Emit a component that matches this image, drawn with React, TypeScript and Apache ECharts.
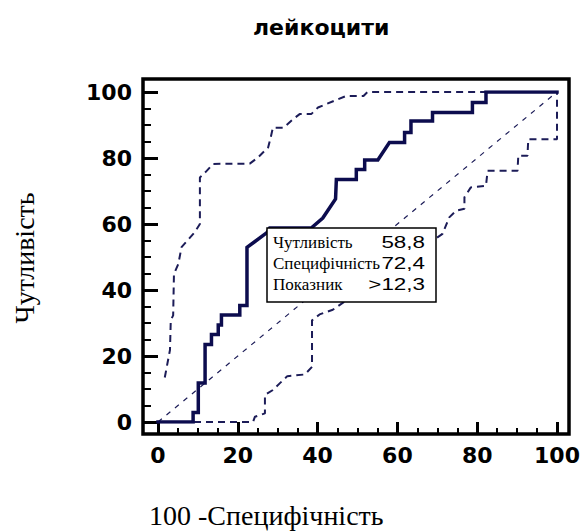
import React, { useEffect, useRef } from "react";
import * as echarts from "echarts";

// ROC curve (100 - specificity, sensitivity)
const rocX = [0, 8.8, 8.8, 10.1, 10.1, 11.8, 11.8, 13.4, 13.4, 15.1, 15.1, 15.9, 15.9, 20.5, 20.5, 22.3, 22.3, 27.3, 28.0, 38.4, 41.3, 43.4, 44.5, 44.7, 49.7, 49.7, 51.8, 51.8, 55.1, 58.0, 61.8, 61.8, 63.4, 63.4, 68.8, 68.8, 78.8, 78.8, 82.2, 82.2, 100];
const rocY = [0, 0, 2.9, 2.9, 11.8, 11.8, 23.5, 23.5, 26.5, 26.5, 29.4, 29.4, 32.4, 32.4, 35.3, 35.3, 52.9, 57.4, 58.8, 58.8, 61.8, 65.6, 67.6, 73.5, 73.5, 76.5, 76.5, 79.4, 79.4, 84.7, 84.7, 87.7, 87.7, 91.2, 91.2, 93.8, 93.8, 96.8, 96.8, 100, 100];

// Upper confidence bound
const upperX = [1.7, 2.2, 3.0, 3.2, 3.8, 4.0, 5.1, 5.9, 9.2, 10.5, 10.5, 12.2, 13.8, 23.0, 25.1, 27.6, 28.2, 28.8, 31.5, 33.8, 35.5, 38.4, 40.1, 45.1, 47.2, 51.5, 52.5, 82.2];
const upperY = [13.5, 16.7, 21.8, 30.8, 32.3, 44.9, 47.9, 53.0, 57.5, 60.0, 74.1, 76.1, 78.2, 78.3, 80.2, 83.2, 86.0, 89.2, 89.2, 91.7, 93.3, 93.3, 95.3, 97.8, 98.8, 98.8, 100, 100];

// Lower confidence bound
const lowerX = [0, 23.8, 24.3, 26.8, 26.8, 28.8, 30.5, 32.4, 36.8, 38.6, 38.6, 40.5, 43.8, 71.3, 73.0, 74.7, 76.8, 76.8, 78.4, 82.2, 82.6, 90.1, 90.3, 92.6, 92.8, 100, 100];
const lowerY = [0, 0, 1.6, 2.6, 8.2, 9.7, 11.7, 13.9, 14.4, 16.7, 30.8, 32.6, 34.0, 57.0, 62.0, 64.0, 64.6, 68.1, 71.1, 71.6, 76.1, 76.1, 80.7, 80.7, 85.7, 85.7, 100];

// Diagonal reference line
const diagX = [0, 100];
const diagY = [0, 100];

const boxLabels = ["Чутливість", "Специфічність", "Показник"];
const boxValues = ["58,8", "72,4", ">12,3"];

const titleText = "лейкоцити";
const xTitle = "100 -Специфічність";
const yTitle = "Чутливість";

const pairs = (xs: number[], ys: number[]) => xs.map((x, i) => [x, ys[i]]);

const NAVY = "#0c0c4e";
const NAVY2 = "#1c1c58";

export default function App() {
  const ref = useRef<HTMLDivElement>(null);
  useEffect(() => {
    if (!ref.current) return;
    const chart = echarts.init(ref.current, null, { renderer: "svg" });
    const axisLabel = {
      color: "#000",
      fontFamily: "DejaVu Sans",
      fontWeight: "bold" as const,
      fontSize: 22,
    };
    const rowY = [242, 263, 284];
    chart.setOption({
      animation: false,
      backgroundColor: "#fff",
      title: {
        text: titleText,
        left: 253,
        top: 14,
        padding: 0,
        textStyle: {
          fontFamily: "DejaVu Sans",
          fontWeight: "bold",
          fontSize: 22,
          lineHeight: 26,
          color: "#000",
        },
      },
      grid: { left: 158, top: 92, width: 399, height: 330 },
      xAxis: {
        type: "value",
        min: 0,
        max: 100,
        interval: 20,
        offset: 12,
        axisLine: { show: false, onZero: false },
        axisTick: { show: true, inside: true, length: 12, lineStyle: { color: "#000", width: 3 } },
        minorTick: { show: true, splitNumber: 4, length: 6, lineStyle: { color: "#000", width: 2 } },
        splitLine: { show: false },
        minorSplitLine: { show: false },
        axisLabel: { ...axisLabel, margin: 10 },
      },
      yAxis: {
        type: "value",
        min: 0,
        max: 100,
        interval: 20,
        offset: 15,
        axisLine: { show: false, onZero: false },
        axisTick: { show: true, inside: true, length: 15, lineStyle: { color: "#000", width: 3 } },
        minorTick: { show: true, splitNumber: 4, length: 8, lineStyle: { color: "#000", width: 2 } },
        splitLine: { show: false },
        minorSplitLine: { show: false },
        axisLabel: { ...axisLabel, margin: 11 },
      },
      series: [
        {
          type: "line",
          data: pairs(diagX, diagY),
          symbol: "none",
          silent: true,
          lineStyle: { color: NAVY2, width: 1.2, type: [5, 6] },
        },
        {
          type: "line",
          data: pairs(lowerX, lowerY),
          symbol: "none",
          silent: true,
          lineStyle: { color: NAVY2, width: 2, type: [7, 5] },
        },
        {
          type: "line",
          data: pairs(upperX, upperY),
          symbol: "none",
          silent: true,
          lineStyle: { color: NAVY2, width: 2, type: [7, 5] },
        },
        {
          type: "line",
          data: pairs(rocX, rocY),
          symbol: "none",
          silent: true,
          lineStyle: { color: NAVY, width: 3.5, cap: "square", join: "miter" },
        },
      ],
      graphic: [
        {
          type: "rect",
          z: 50,
          shape: { x: 143, y: 79, width: 426, height: 355 },
          style: { fill: "none", stroke: "#000", lineWidth: 3.5 },
          silent: true,
        },
        {
          type: "rect",
          z: 100,
          shape: { x: 267, y: 228, width: 169, height: 74 },
          style: { fill: "#fff", stroke: "#000", lineWidth: 1.5 },
          silent: true,
        },
        ...boxLabels.map((t, i) => ({
          type: "text",
          z: 101,
          x: 273,
          y: rowY[i],
          style: {
            text: t,
            fontFamily: "Liberation Serif",
            fontSize: 17,
            fill: "#000",
            align: "left",
            verticalAlign: "middle",
          },
          silent: true,
        })),
        ...boxValues.map((t, i) => ({
          type: "text",
          z: 101,
          x: 425,
          y: rowY[i],
          scaleX: 1.4,
          style: {
            text: t,
            fontFamily: "Liberation Sans",
            fontSize: 16,
            fill: "#000",
            align: "right",
            verticalAlign: "middle",
          },
          silent: true,
        })),
        {
          type: "text",
          x: 149,
          y: 515,
          style: {
            text: xTitle,
            fontFamily: "Liberation Serif",
            fontSize: 28,
            fill: "#000",
            align: "left",
            verticalAlign: "middle",
          },
          silent: true,
        },
        {
          type: "text",
          x: 24,
          y: 258,
          rotation: Math.PI / 2,
          style: {
            text: yTitle,
            fontFamily: "Liberation Serif",
            fontSize: 28,
            fill: "#000",
            align: "center",
            verticalAlign: "middle",
          },
          silent: true,
        },
      ],
    });
    return () => chart.dispose();
  }, []);
  return (
    <div
      ref={ref}
      style={{ position: "fixed", left: 0, top: 0, width: 583, height: 531 }}
    />
  );
}
